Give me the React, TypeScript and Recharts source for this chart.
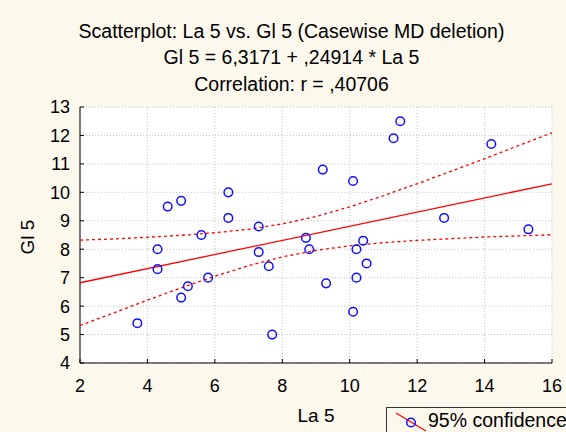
import { ScatterChart, Scatter, XAxis, YAxis, CartesianGrid } from "recharts";

// La 5 / Gl 5 pairs
const laValues = [3.7, 4.3, 4.3, 4.6, 5.0, 5.0, 5.2, 5.6, 5.8, 6.4, 6.4, 7.3, 7.3, 7.6, 7.7, 8.7, 8.8, 9.2, 9.3, 10.1, 10.1, 10.2, 10.2, 10.4, 10.5, 11.3, 11.5, 12.8, 14.2, 15.3];
const glValues = [5.4, 8.0, 7.3, 9.5, 9.7, 6.3, 6.7, 8.5, 7.0, 10.0, 9.1, 8.8, 7.9, 7.4, 5.0, 8.4, 8.0, 10.8, 6.8, 10.4, 5.8, 8.0, 7.0, 8.3, 7.5, 11.9, 12.5, 9.1, 11.7, 8.7];

// fitted line end points
const fitX = [2, 16];
const fitY = [6.82, 10.3];

// 95% confidence band, read at each integer La 5
const bandX = [2, 3, 4, 5, 6, 7, 8, 9, 10, 11, 12, 13, 14, 15, 16];
const upperBand = [8.32, 8.36, 8.42, 8.49, 8.58, 8.7, 8.89, 9.15, 9.49, 9.88, 10.3, 10.74, 11.18, 11.64, 12.09];
const lowerBand = [5.32, 5.76, 6.21, 6.64, 7.05, 7.42, 7.73, 7.96, 8.12, 8.23, 8.31, 8.37, 8.43, 8.47, 8.51];

const xTicks = [2, 4, 6, 8, 10, 12, 14, 16];
const yTicks = [4, 5, 6, 7, 8, 9, 10, 11, 12, 13];

const titles = [
  "Scatterplot: La 5 vs. Gl 5 (Casewise MD deletion)",
  "Gl 5 = 6,3171 + ,24914 * La 5",
  "Correlation: r = ,40706",
];

const points = laValues.map((x, i) => ({ x, y: glValues[i] }));
const fitData = fitX.map((x, i) => ({ x, y: fitY[i] }));
const upperData = bandX.map((x, i) => ({ x, y: upperBand[i] }));
const lowerData = bandX.map((x, i) => ({ x, y: lowerBand[i] }));

const FONT = '"Liberation Sans", Arial, sans-serif';
const BG = "#fdf8ec";
const RED = "#ff0000";
const BLUE = "#1010ff";

function OpenCircle(props: any) {
  const { cx, cy } = props;
  return <circle cx={cx} cy={cy} r={4.3} fill="none" stroke={BLUE} strokeWidth={1.5} />;
}

const noDot = () => <g />;

export default function App() {
  const tickStyle = { fill: "#000", fontSize: 18, fontFamily: FONT };
  return (
    <div
      style={{
        position: "absolute",
        left: 0,
        top: 0,
        width: 566,
        height: 432,
        background: BG,
        overflow: "hidden",
        fontFamily: FONT,
      }}
    >
      {titles.map((t, i) => (
        <div
          key={i}
          style={{
            position: "absolute",
            left: 0,
            width: 583,
            top: 21.8 + i * 26.4,
            textAlign: "center",
            fontSize: 19.5,
            lineHeight: "19.5px",
            color: "#000",
            whiteSpace: "nowrap",
          }}
        >
          {t}
        </div>
      ))}
      <ScatterChart width={566} height={432} margin={{ top: 107, right: 14, bottom: 0, left: 0 }}>
        <CartesianGrid
          fill="#ffffff"
          stroke="#c4c4c4"
          strokeDasharray="1 2"
          horizontalValues={yTicks}
          verticalValues={xTicks}
        />
        <XAxis
          type="number"
          dataKey="x"
          domain={[2, 16]}
          ticks={xTicks}
          height={69}
          tickSize={-4}
          tickMargin={20}
          stroke="#000"
          tick={tickStyle}
          allowDataOverflow
          label={({ viewBox }: any) => (
            <text x={viewBox.x + viewBox.width / 2} y={422} textAnchor="middle" fontSize={19} fontFamily={FONT} fill="#000">
              La 5
            </text>
          )}
        />
        <XAxis
          xAxisId="top"
          orientation="top"
          type="number"
          domain={[2, 16]}
          ticks={xTicks}
          height={0}
          tickSize={-4}
          tick={false}
          stroke="#000"
          allowDataOverflow
        />
        <YAxis
          type="number"
          dataKey="y"
          domain={[4, 13]}
          ticks={yTicks}
          width={80}
          tickSize={-4}
          tickMargin={14}
          stroke="#000"
          tick={tickStyle}
          allowDataOverflow
          label={() => (
            <text
              x={34}
              y={237}
              transform="rotate(-90 34 237)"
              textAnchor="middle"
              fontSize={19}
              fontFamily={FONT}
              fill="#000"
            >
              Gl 5
            </text>
          )}
        />
        <YAxis
          yAxisId="right"
          orientation="right"
          type="number"
          domain={[4, 13]}
          ticks={yTicks}
          width={0}
          tickSize={-4}
          tick={false}
          stroke="#000"
          allowDataOverflow
        />
        <Scatter
          data={upperData}
          shape={noDot}
          line={{ stroke: RED, strokeWidth: 1.3, strokeDasharray: "3 3" }}
          isAnimationActive={false}
        />
        <Scatter
          data={lowerData}
          shape={noDot}
          line={{ stroke: RED, strokeWidth: 1.3, strokeDasharray: "3 3" }}
          isAnimationActive={false}
        />
        <Scatter data={fitData} shape={noDot} line={{ stroke: RED, strokeWidth: 1.3 }} isAnimationActive={false} />
        <Scatter data={points} shape={OpenCircle} isAnimationActive={false} />
      </ScatterChart>
      <div
        style={{
          position: "absolute",
          left: 386,
          top: 406.5,
          width: 220,
          height: 40,
          border: "1px solid #333",
          boxSizing: "border-box",
        }}
      >
        <svg width={36} height={26} style={{ position: "absolute", left: 7, top: 3 }}>
          <line x1={2} y1={2} x2={32} y2={20} stroke={RED} strokeWidth={1.3} />
          <circle cx={17} cy={11.5} r={4.3} fill="none" stroke={BLUE} strokeWidth={1.5} />
        </svg>
        <div
          style={{
            position: "absolute",
            left: 41,
            top: 3.7,
            fontSize: 19.5,
            lineHeight: "19.5px",
            color: "#000",
            whiteSpace: "nowrap",
          }}
        >
          95% confidence
        </div>
      </div>
    </div>
  );
}
